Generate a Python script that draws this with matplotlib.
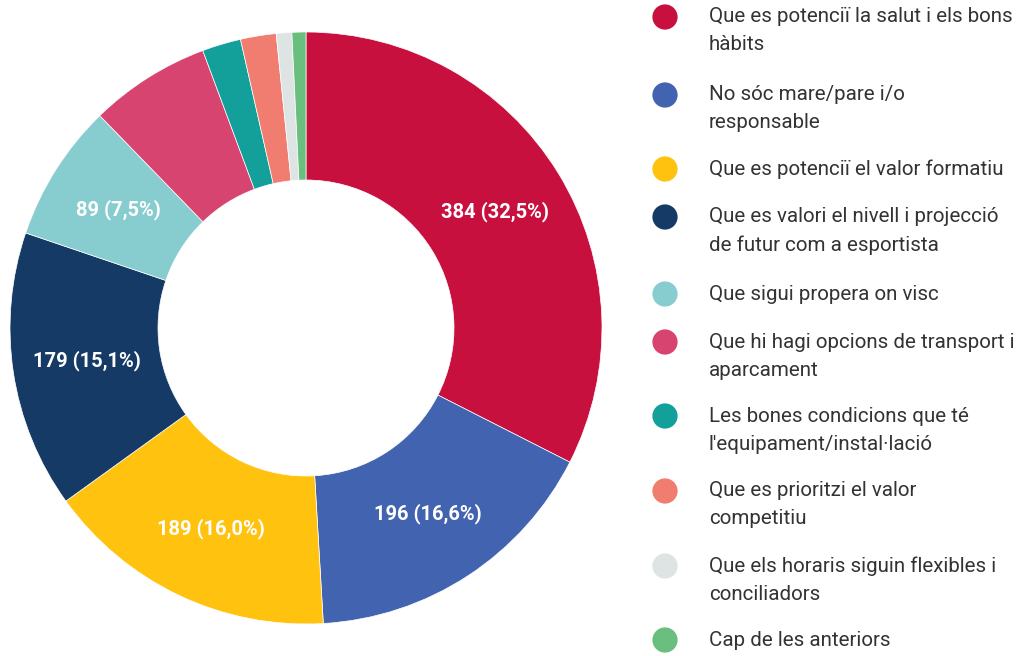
import matplotlib
matplotlib.use("Agg")
from matplotlib import pyplot as plt

plt.rcParams['font.family'] = ['Roboto', 'DejaVu Sans']

labels = [
    "Que es potenciï la salut i els bons\nhàbits",
    "No sóc mare/pare i/o\nresponsable",
    "Que es potenciï el valor formatiu",
    "Que es valori el nivell i projecció\nde futur com a esportista",
    "Que sigui propera on visc",
    "Que hi hagi opcions de transport i\naparcament",
    "Les bones condicions que té\nl'equipament/instal·lació",
    "Que es prioritzi el valor\ncompetitiu",
    "Que els horaris siguin flexibles i\nconciliadors",
    "Cap de les anteriors",
]
values = [384, 196, 189, 179, 89, 78, 25, 23, 10, 9]
colors = ["#C8103F", "#4263B0", "#FFC20E", "#163A66", "#87CDD0",
          "#D6446F", "#13A09A", "#F07D70", "#DDE4E3", "#6ABF7F"]
legend_y = [17, 95, 169, 217, 294, 342, 416, 491, 566, 640]  # first line, px from top

W, H = 1025, 656
fig = plt.figure(figsize=(W / 100, H / 100), dpi=100)

cx, cy, r = 306, 328, 296
ax = fig.add_axes([(cx - r) / W, (H - cy - r) / H, 2 * r / W, 2 * r / H])
total = sum(values)

def fmt(pct):
    if pct < 7:
        return ""
    n = round(pct * total / 100)
    return f"{n} ({pct:.1f}%)".replace(".", ",")

wedges, texts, autotexts = ax.pie(
    values, colors=colors, startangle=90, counterclock=False,
    radius=1, autopct=fmt, pctdistance=0.75,
    wedgeprops=dict(width=0.5, edgecolor="white", linewidth=0.5),
    textprops=dict(color="white", fontsize=14.5, fontweight="bold"))
ax.set_xlim(-1, 1)
ax.set_ylim(-1, 1)
ax.set_aspect("equal")
ax.axis("off")

# legend drawn by hand
lax = fig.add_axes([0, 0, 1, 1])
lax.set_xlim(0, W)
lax.set_ylim(H, 0)
lax.axis("off")
for lab, col, y in zip(labels, colors, legend_y):
    lax.scatter([665], [y], s=330, color=col, edgecolors="none")
    for i, line in enumerate(lab.split("\n")):
        lax.text(709, y + 28 * i, line, fontsize=14.8, color="#333333",
                 va="center", ha="left")

fig.savefig("out.png", dpi=100)
